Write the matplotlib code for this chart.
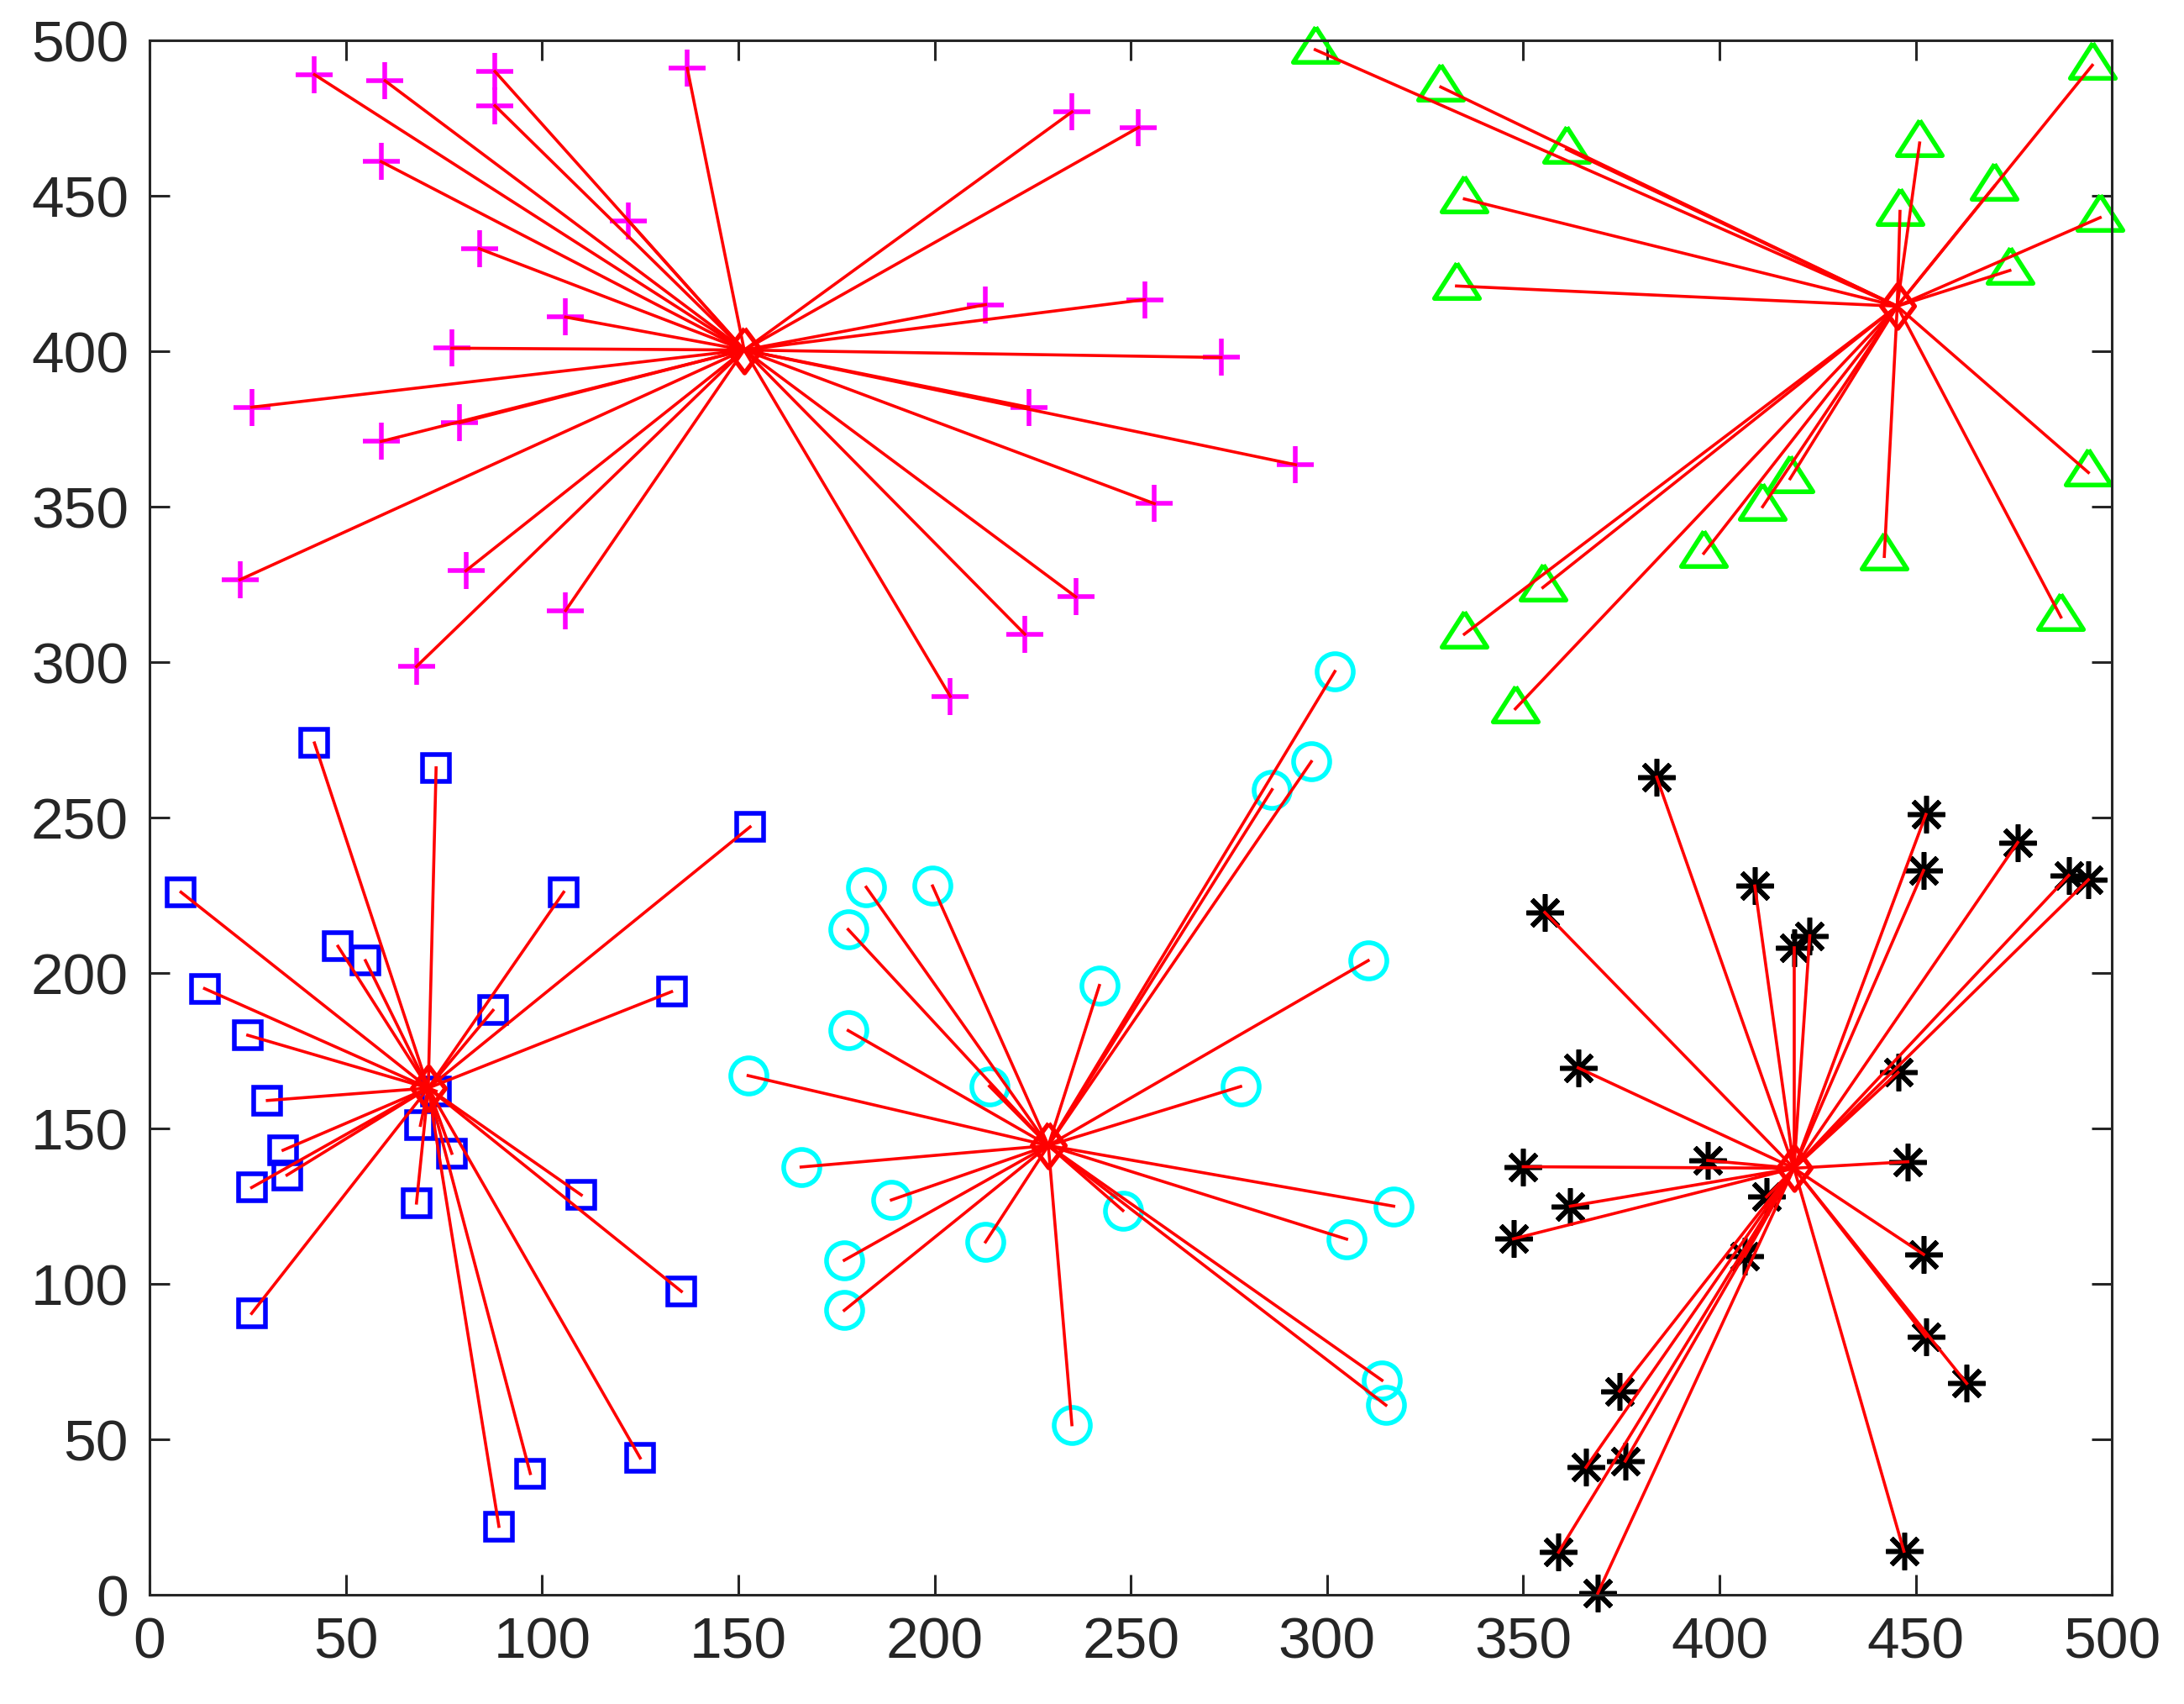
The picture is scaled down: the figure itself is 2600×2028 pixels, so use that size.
import numpy as np
import matplotlib
matplotlib.use("Agg")
import matplotlib.pyplot as plt

plt.rcParams['font.family'] = ['Liberation Sans', 'DejaVu Sans']

# magenta "+" cluster
plus_x = [42, 60, 88, 88, 59, 122, 84, 106, 77, 26, 79, 59, 137, 235, 252, 213, 224,
          253.5, 273, 292, 256, 23, 80.6, 106, 68, 236, 223, 204]
plus_y = [489, 487, 490, 479, 461, 442, 433, 411, 401, 382, 377, 371, 491, 477, 472, 415, 382,
          416.6, 398, 363.5, 351, 326.5, 329.4, 316.6, 298.6, 321, 309, 289]
plus_center = (151.5, 400.4)

# green triangle cluster
tri_x = [297, 329, 361, 335, 333, 495, 451, 470, 446, 497, 474, 494, 418, 411, 396, 442,
         335, 355, 348, 487]
tri_y = [497, 485, 465, 449, 421, 492, 467, 453, 445, 443, 426, 361, 359, 350, 335, 334,
         309, 324, 285, 314.5]
tri_center = (445.3, 414.5)

# blue square cluster
sq_x = [42, 73, 8, 105.5, 48, 55, 14, 87.5, 25, 153, 133, 30, 34, 35, 26, 69, 77, 68, 73,
        110, 26, 125, 97, 89, 135.5]
sq_y = [274, 266, 226, 226, 208.6, 204, 195, 188, 180, 247, 194, 159, 143, 135, 131, 151,
        142, 126, 162, 128.6, 90.5, 44, 39, 22, 97.6]
sq_center = (71, 163)

# cyan circle cluster
circ_x = [152.5, 166, 178, 182.6, 199.5, 178, 189, 177, 177, 213, 214, 242, 235, 248, 278,
          286, 296, 302, 310.5, 317, 305, 314, 315]
circ_y = [167, 137.6, 214, 227.6, 228, 181.5, 127, 107.6, 91.5, 113.5, 163.6, 196, 54.7,
          123.6, 163.5, 259, 268, 297, 204, 125, 114.4, 69, 61]
circ_center = (229, 144.5)

# black asterisk cluster
ast_x = [355.5, 384, 409, 419, 423, 452.6, 452, 476, 489, 494, 364, 445.5, 350, 362, 347.5,
         397, 412, 406.5, 448, 452, 452.6, 463, 374.5, 366, 376, 359, 369, 447]
ast_y = [219.5, 263, 228, 208, 212, 251, 233, 242, 231.4, 230, 169.5, 168, 137.7, 125, 114.5,
         139.7, 128, 109, 139.3, 109.5, 83, 68, 65.5, 41, 43, 13.7, 0.5, 14]
ast_center = (419, 137.2)

# matlab-ish markers: wide triangle (point sits lower than the box centre), diamond
tri_marker = [(0, 1.01), (-1, -0.55), (1, -0.55), (0, 1.01)]
dia_marker = [(0, 1), (0.75, 0), (0, -1), (-0.75, 0), (0, 1)]

clusters = [
    (plus_x, plus_y, plus_center, "#ff00ff", "+", 16),
    (tri_x, tri_y, tri_center, "#00ff00", tri_marker, 19.5),
    (sq_x, sq_y, sq_center, "#0000ff", "s", 11.5),
    (circ_x, circ_y, circ_center, "#00ffff", "o", 15.5),
    (ast_x, ast_y, ast_center, "#000000", (8, 2, 0), 16),
]

fig = plt.figure(figsize=(13, 10.14), dpi=200)
ax = fig.add_axes([0.0685, 0.0641, 0.8985, 0.9122])

for xs, ys, center, color, marker, ms in clusters:
    ax.plot(xs, ys, linestyle="none", marker=marker, markersize=ms,
            markerfacecolor="none", markeredgecolor=color, markeredgewidth=2.0,
            clip_on=False, zorder=2)

for xs, ys, center, color, marker, ms in clusters:
    for x, y in zip(xs, ys):
        ax.plot([x, center[0]], [y, center[1]], color="#ff0000", linewidth=1.3, zorder=3)
    ax.plot(center[0], center[1], linestyle="none", marker=dia_marker, markersize=19,
            markerfacecolor="none", markeredgecolor="#ff0000", markeredgewidth=2.0,
            zorder=4)

ax.set_xlim(0, 500)
ax.set_ylim(0, 500)
ax.set_xticks(np.arange(0, 501, 50))
ax.set_yticks(np.arange(0, 501, 50))
ax.tick_params(direction="in", length=8.5, width=1.1, colors="#262626", labelsize=25,
               top=True, right=True, pad=9)
for s in ax.spines.values():
    s.set_linewidth(1.1)
    s.set_color("#262626")

fig.savefig("out.png", dpi=200, facecolor="white")
